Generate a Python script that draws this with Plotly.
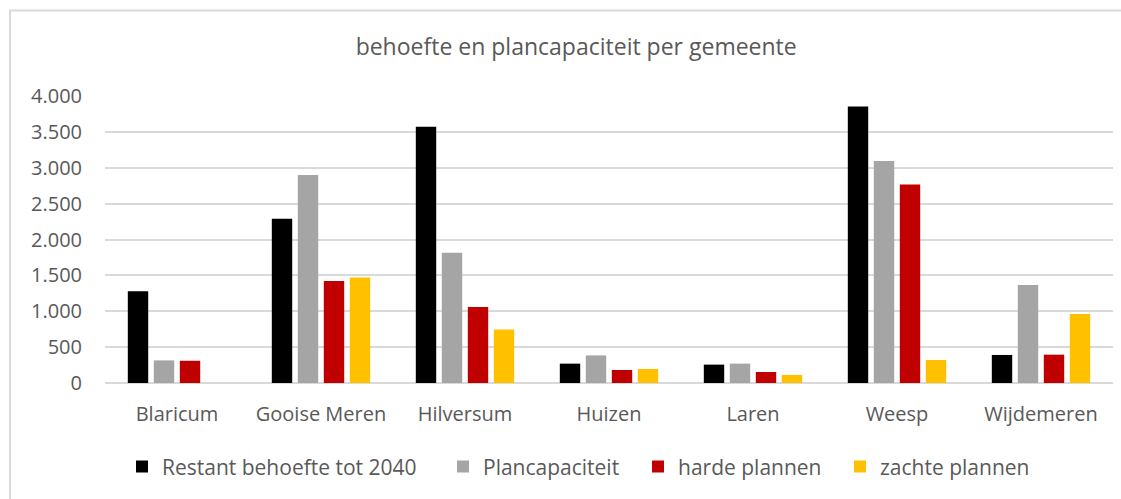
import plotly.graph_objects as go

categories = ["Blaricum", "Gooise Meren", "Hilversum", "Huizen", "Laren", "Weesp", "Wijdemeren"]
restant_behoefte = [1280, 2290, 3570, 270, 256, 3855, 391]
plancapaciteit = [315, 2900, 1815, 385, 270, 3095, 1367]
harde_plannen = [310, 1420, 1060, 181, 153, 2766, 395]
zachte_plannen = [0, 1470, 745, 195, 112, 321, 963]

series_names = ["Restant behoefte tot 2040", "Plancapaciteit", "harde plannen", "zachte plannen"]
series_values = [restant_behoefte, plancapaciteit, harde_plannen, zachte_plannen]
series_colors = ["#000000", "#a5a5a5", "#c00000", "#ffc000"]

y_ticks = [0, 500, 1000, 1500, 2000, 2500, 3000, 3500, 4000]

FONT = "Open Sans"
TXT = "#595959"

# plot-area geometry (pixels)
L, R, T, B = 105, 1113, 96.5, 383.3
PW, PH = R - L, B - T

legend_ids = ["legend", "legend2", "legend3", "legend4"]
legend_square_centers = [146, 467, 662, 864]

fig = go.Figure()
for name, vals, col, lid in zip(series_names, series_values, series_colors, legend_ids):
    fig.add_trace(go.Bar(x=categories, y=vals, name=name, legend=lid,
                         marker=dict(color=col, line=dict(width=0))))

legend_common = dict(orientation="h", xanchor="left", yanchor="middle",
                     y=(B - 467) / PH, bgcolor="rgba(0,0,0,0)", borderwidth=0,
                     font=dict(size=21, color=TXT, family=FONT))
legends = {}
for lid, cx in zip(legend_ids, legend_square_centers):
    legends[lid] = dict(legend_common, x=(cx - 24 - L) / PW)

fig.update_layout(
    width=1121, height=499,
    margin=dict(l=L, r=1121 - R, t=96, b=116),
    paper_bgcolor="white", plot_bgcolor="white",
    separators=",.",
    barmode="group", bargap=0.278, bargroupgap=0.215,
    font=dict(family=FONT, color=TXT, size=20),
    title=dict(text="behoefte en plancapaciteit per gemeente", x=0.514, xanchor="center",
               y=1 - 47 / 499, yanchor="middle", font=dict(size=23, color=TXT, family=FONT)),
    showlegend=True,
    **legends,
)
fig.update_xaxes(showgrid=False, showline=False, ticks="", tickfont=dict(size=20, color=TXT),
                 ticklabelstandoff=17)
fig.update_yaxes(range=[0, 4000], tickvals=y_ticks, tickformat=",d", showgrid=True,
                 gridcolor="#d9d9d9", gridwidth=1.5, zeroline=True, zerolinecolor="#d9d9d9",
                 zerolinewidth=1.5, showline=False, ticks="", tickfont=dict(size=20, color=TXT),
                 ticklabelstandoff=22)

fig.add_shape(type="rect", xref="paper", yref="paper",
              x0=(10 - L) / PW, x1=(1130 - L) / PW,
              y0=(B - 510) / PH, y1=(B - 11) / PH,
              line=dict(color="#d9d9d9", width=2), fillcolor="rgba(0,0,0,0)", layer="below")

fig.write_html("out.html", config={"displayModeBar": False},
               post_script="document.body.style.margin='0px';document.body.style.overflow='hidden';")
